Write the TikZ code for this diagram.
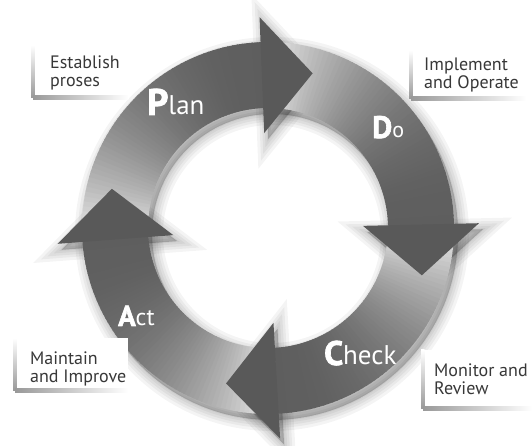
\documentclass[tikz,border=0pt]{standalone}
\usepackage{fontspec}
\setmainfont{PT Sans}[BoldFeatures={FakeBold=2}]
\definecolor{headgray}{gray}{0.35}
\definecolor{txtgray}{gray}{0.22}
\definecolor{edgegray}{gray}{0.6}
\tikzset{
  boxtext/.style={font=\fontsize{18}{18.5}\selectfont, text=txtgray, align=left, inner sep=0pt, anchor=base west},
  labelbox/.style={inner sep=0pt, fill=white, anchor=north west},
  bigletter/.style={text=white, inner sep=0pt, anchor=base west},
  ringshadow/.style={black, opacity=0.045, even odd rule},
}
% L-shaped soft edge on the left and bottom of a label box
\newcommand{\boxedge}[1]{%
  \shade[top color=white, bottom color=edgegray] ([xshift=-2pt]#1.north west) rectangle ([xshift=1.5pt]#1.south west);
  \shade[left color=edgegray, right color=white] ([yshift=1.5pt]#1.south west) rectangle ([yshift=-2.5pt]#1.south east);
}
% tip of an arrow head whose base lies on the radius at angle #1
\newcommand{\headtip}[1]{%
  \pgfmathsetmacro\tipx{153*cos(#1)+50*sin(#1)}%
  \pgfmathsetmacro\tipy{153*sin(#1)-50*cos(#1)}%
}
\begin{document}
\begin{tikzpicture}[x=1pt,y=1pt]
\useasboundingbox (0,0) rectangle (532,446);
\fill[white] (0,0) rectangle (532,446);

% soft shadow of the ring and the heads
\begin{scope}[shift={(272,212)}]
  \foreach \w in {22,16,11,6,2}{
    \filldraw[ringshadow, line width=\w pt] (0,0) circle[radius=186] (0,0) circle[radius=120];
    \foreach \a in {92,1,-87,184}{
      \headtip{\a}
      \filldraw[ringshadow, line width=\w pt] (\a+0.3:95) -- (\a+0.3:211) -- (\tipx,\tipy) -- cycle;
    }
  }
\end{scope}

% the four bands, each shaded from a light tail to a dark end
\begin{scope}[shift={(268,218)}]
  \foreach \a/\b in {184/92, 92/1, 1/-87, -87/-176}{
    \foreach \k in {0,...,59}{
      \pgfmathsetmacro\s{\a-(\a-\b)*\k/60}
      \pgfmathsetmacro\e{\a-(\a-\b)*(\k+1)/60-0.4}
      \pgfmathsetmacro\t{(\k+0.5)/60}
      \pgfmathsetmacro\lev{0.37+0.57*(1-\t)^2.2}
      \definecolor{segc}{gray}{\lev}
      \fill[segc] (\s:186) arc[start angle=\s, end angle=\e, radius=186]
        -- (\e:120) arc[start angle=\e, end angle=\s, radius=120] -- cycle;
    }
  }
  % arrow heads
  \foreach \a in {92,1,-87,184}{
    \headtip{\a}
    \fill[headgray] (\a+0.3:95) -- (\a+0.3:211) -- (\tipx,\tipy) -- cycle;
  }
\end{scope}

% stage names
\node[bigletter] (plan) at (147,331) {{\fontsize{37}{37}\selectfont\bfseries P}{\fontsize{27}{27}\selectfont lan}};
\node[bigletter] (do) at (372,308) {{\fontsize{31}{31}\selectfont\bfseries D}{\fontsize{22}{22}\selectfont o}};
\node[bigletter] (check) at (324,81) {{\fontsize{34}{34}\selectfont\bfseries C}{\fontsize{27}{27}\selectfont heck}};
\node[bigletter] (act) at (118,120) {{\fontsize{29}{29}\selectfont\bfseries A}{\fontsize{24}{24}\selectfont ct}};

% label boxes
\node[labelbox, minimum width=95pt, minimum height=52pt] (b1) at (33,401) {};
\node[labelbox, minimum width=115pt, minimum height=48pt] (b2) at (411,396) {};
\node[labelbox, minimum width=113pt, minimum height=52pt] (b3) at (15,108) {};
\node[labelbox, minimum width=109pt, minimum height=58pt] (b4) at (423,96) {};
\boxedge{b1}
\boxedge{b2}
\boxedge{b3}
\boxedge{b4}

\node[boxtext] (t1) at (50,359) {Establish\\proses};
\node[boxtext] (t2) at (424,357) {Implement\\and Operate};
\node[boxtext] (t3) at (30,63) {Maintain\\and Improve};
\node[boxtext] (t4) at (434,51) {Monitor and\\Review};
\end{tikzpicture}
\end{document}
